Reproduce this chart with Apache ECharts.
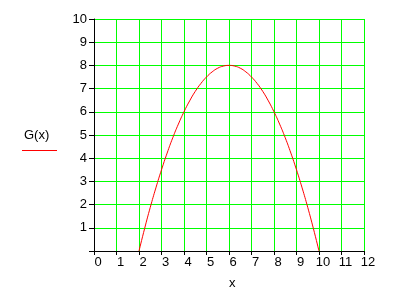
<!DOCTYPE html>
<html>
<head>
<meta charset="utf-8">
<script src="https://cdn.jsdelivr.net/npm/echarts@6/dist/echarts.min.js"></script>
<style>html,body{margin:0;padding:0;background:#fff}#c{width:394px;height:290px}</style>
</head>
<body>
<div id="c"></div>
<script>
var xValues = [2, 2.25, 2.5, 2.75, 3, 3.25, 3.5, 3.75, 4, 4.25, 4.5, 4.75, 5, 5.25, 5.5, 5.75, 6,
  6.25, 6.5, 6.75, 7, 7.25, 7.5, 7.75, 8, 8.25, 8.5, 8.75, 9, 9.25, 9.5, 9.75, 10];
var gValues = [0, 0.97, 1.88, 2.72, 3.5, 4.22, 4.88, 5.47, 6, 6.47, 6.88, 7.22, 7.5, 7.72, 7.88, 7.97, 8,
  7.97, 7.88, 7.72, 7.5, 7.22, 6.88, 6.47, 6, 5.47, 4.88, 4.22, 3.5, 2.72, 1.88, 0.97, 0];
var seriesName = 'G(x)';
var xAxisTitle = 'x';

var chart = echarts.init(document.getElementById('c'), null, {renderer: 'canvas'});
var font = '"Liberation Sans", Arial, sans-serif';
chart.setOption({
  animation: false,
  backgroundColor: '#ffffff',
  grid: {left: 94, right: 30, top: 19, bottom: 39, containLabel: false},
  xAxis: {
    type: 'value', min: 0, max: 12, interval: 1,
    axisLine: {show: true, onZero: false, lineStyle: {color: '#000', width: 1}},
    axisTick: {show: true, inside: false, length: 4, lineStyle: {color: '#000'}},
    axisLabel: {color: '#000', fontSize: 13, fontFamily: font, margin: 5, padding: [0, 0, 0, 8]},
    splitLine: {show: true, lineStyle: {color: '#00ff00', width: 1}}
  },
  yAxis: {
    type: 'value', min: 0, max: 10, interval: 1,
    axisLine: {show: true, onZero: false, lineStyle: {color: '#000', width: 1}},
    axisTick: {show: true, length: 5, lineStyle: {color: '#000'}},
    axisLabel: {color: '#000', fontSize: 13, fontFamily: font, margin: 7,
      formatter: function (v) { return v === 0 ? '' : String(v); }},
    splitLine: {show: true, lineStyle: {color: '#00ff00', width: 1}}
  },
  graphic: [
    {type: 'text', left: 24, top: 129, style: {text: seriesName, fill: '#000', font: '13px ' + font}},
    {type: 'line', shape: {x1: 22, y1: 150.5, x2: 57, y2: 150.5}, style: {stroke: '#ff0000', lineWidth: 1}},
    {type: 'text', left: 229, top: 277, style: {text: xAxisTitle, fill: '#000', font: '13px ' + font}}
  ],
  series: [{
    name: seriesName,
    type: 'line',
    data: xValues.map(function (x, i) { return [x, gValues[i]]; }),
    showSymbol: false,
    smooth: true,
    lineStyle: {color: '#ff0000', width: 1}
  }]
});
</script>
</body>
</html>
